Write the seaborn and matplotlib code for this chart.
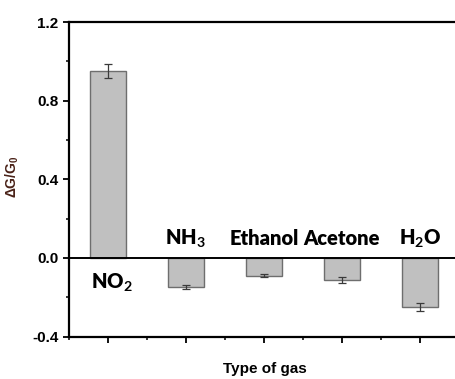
import matplotlib
matplotlib.use("Agg")
import matplotlib.pyplot as plt
import seaborn as sns
import pandas as pd
from matplotlib.ticker import MultipleLocator, AutoMinorLocator

# Sensor response of each gas
gases = ["NO2", "NH3", "Ethanol", "Acetone", "H2O"]
gas_labels = ["NO$_2$", "NH$_3$", "Ethanol", "Acetone", "H$_2$O"]
response = [0.95, -0.15, -0.09, -0.113, -0.25]
response_err = [0.035, 0.01, 0.008, 0.015, 0.02]
y_ticks = [-0.4, 0.0, 0.4, 0.8, 1.2]

sns.set_theme(style="ticks")
plt.rcParams["font.family"] = ["Liberation Sans", "DejaVu Sans"]
plt.rcParams["text.color"] = "black"
plt.rcParams["xtick.color"] = "black"
plt.rcParams["ytick.color"] = "black"
plt.rcParams["axes.labelcolor"] = "black"
plt.rcParams["mathtext.fontset"] = "custom"
plt.rcParams["mathtext.rm"] = "Lato:weight=bold"
plt.rcParams["mathtext.it"] = "Lato:weight=bold"
plt.rcParams["mathtext.bf"] = "Lato:weight=bold"
plt.rcParams["mathtext.sf"] = "Liberation Sans:bold"

df = pd.DataFrame({"gas": gases, "response": response})

fig = plt.figure(figsize=(4.56, 3.79), dpi=100)
ax = fig.add_axes([69 / 456, 1 - 336.5 / 379, 390 / 456, 314.5 / 379])

sns.barplot(data=df, x="gas", y="response", color="#c0c0c0", saturation=1,
            width=0.45, edgecolor="#6e6e6e", linewidth=1.0, errorbar=None, ax=ax)
ax.errorbar(range(len(gases)), response, yerr=response_err, fmt="none",
            ecolor="#3a3a3a", elinewidth=0.9, capsize=3, capthick=0.9, zorder=5)

ax.axhline(0, color="black", lw=1.4, zorder=4)

ax.set_xlim(-0.5, len(gases) - 0.5)
ax.set_ylim(-0.4, 1.2)
ax.set_yticks(y_ticks)
ax.set_yticklabels([f"{v:.1f}" for v in y_ticks])
ax.yaxis.set_minor_locator(MultipleLocator(0.2))
ax.xaxis.set_minor_locator(AutoMinorLocator(2))
ax.set_xticks(range(len(gases)))
ax.set_xticklabels([])
ax.set_xlabel("")
ax.set_ylabel("")

for side in ["left", "bottom", "top", "right"]:
    ax.spines[side].set_visible(True)
    ax.spines[side].set_linewidth(1.6)
    ax.spines[side].set_color("black")

ax.tick_params(axis="both", which="major", direction="out", length=4.5, width=1.3,
               color="black", labelcolor="black", labelsize=11, pad=3)
ax.tick_params(axis="both", which="minor", direction="out", length=2.5, width=1.1,
               color="black")
for lbl in ax.get_yticklabels():
    lbl.set_fontweight("bold")

# gas names written beside each bar
for i, (lab, val) in enumerate(zip(gas_labels, response)):
    y = -0.155 if val >= 0 else 0.066
    x = i + 0.05 if val >= 0 else i
    ax.text(x, y, lab, ha="center", va="baseline", fontsize=14.5,
            family="Lato", fontweight="heavy", color="black")

fig.text(265 / 456, 1 - 369 / 379, "Type of gas", ha="center", va="center",
         fontsize=11, fontweight="bold", color="black")
fig.text(12 / 456, 1 - 177 / 379, r"$\mathsf{\Delta G/G_0}$", ha="center",
         va="center", rotation=90, fontsize=10, color="#4a2218")

fig.savefig("out.png", dpi=100)
